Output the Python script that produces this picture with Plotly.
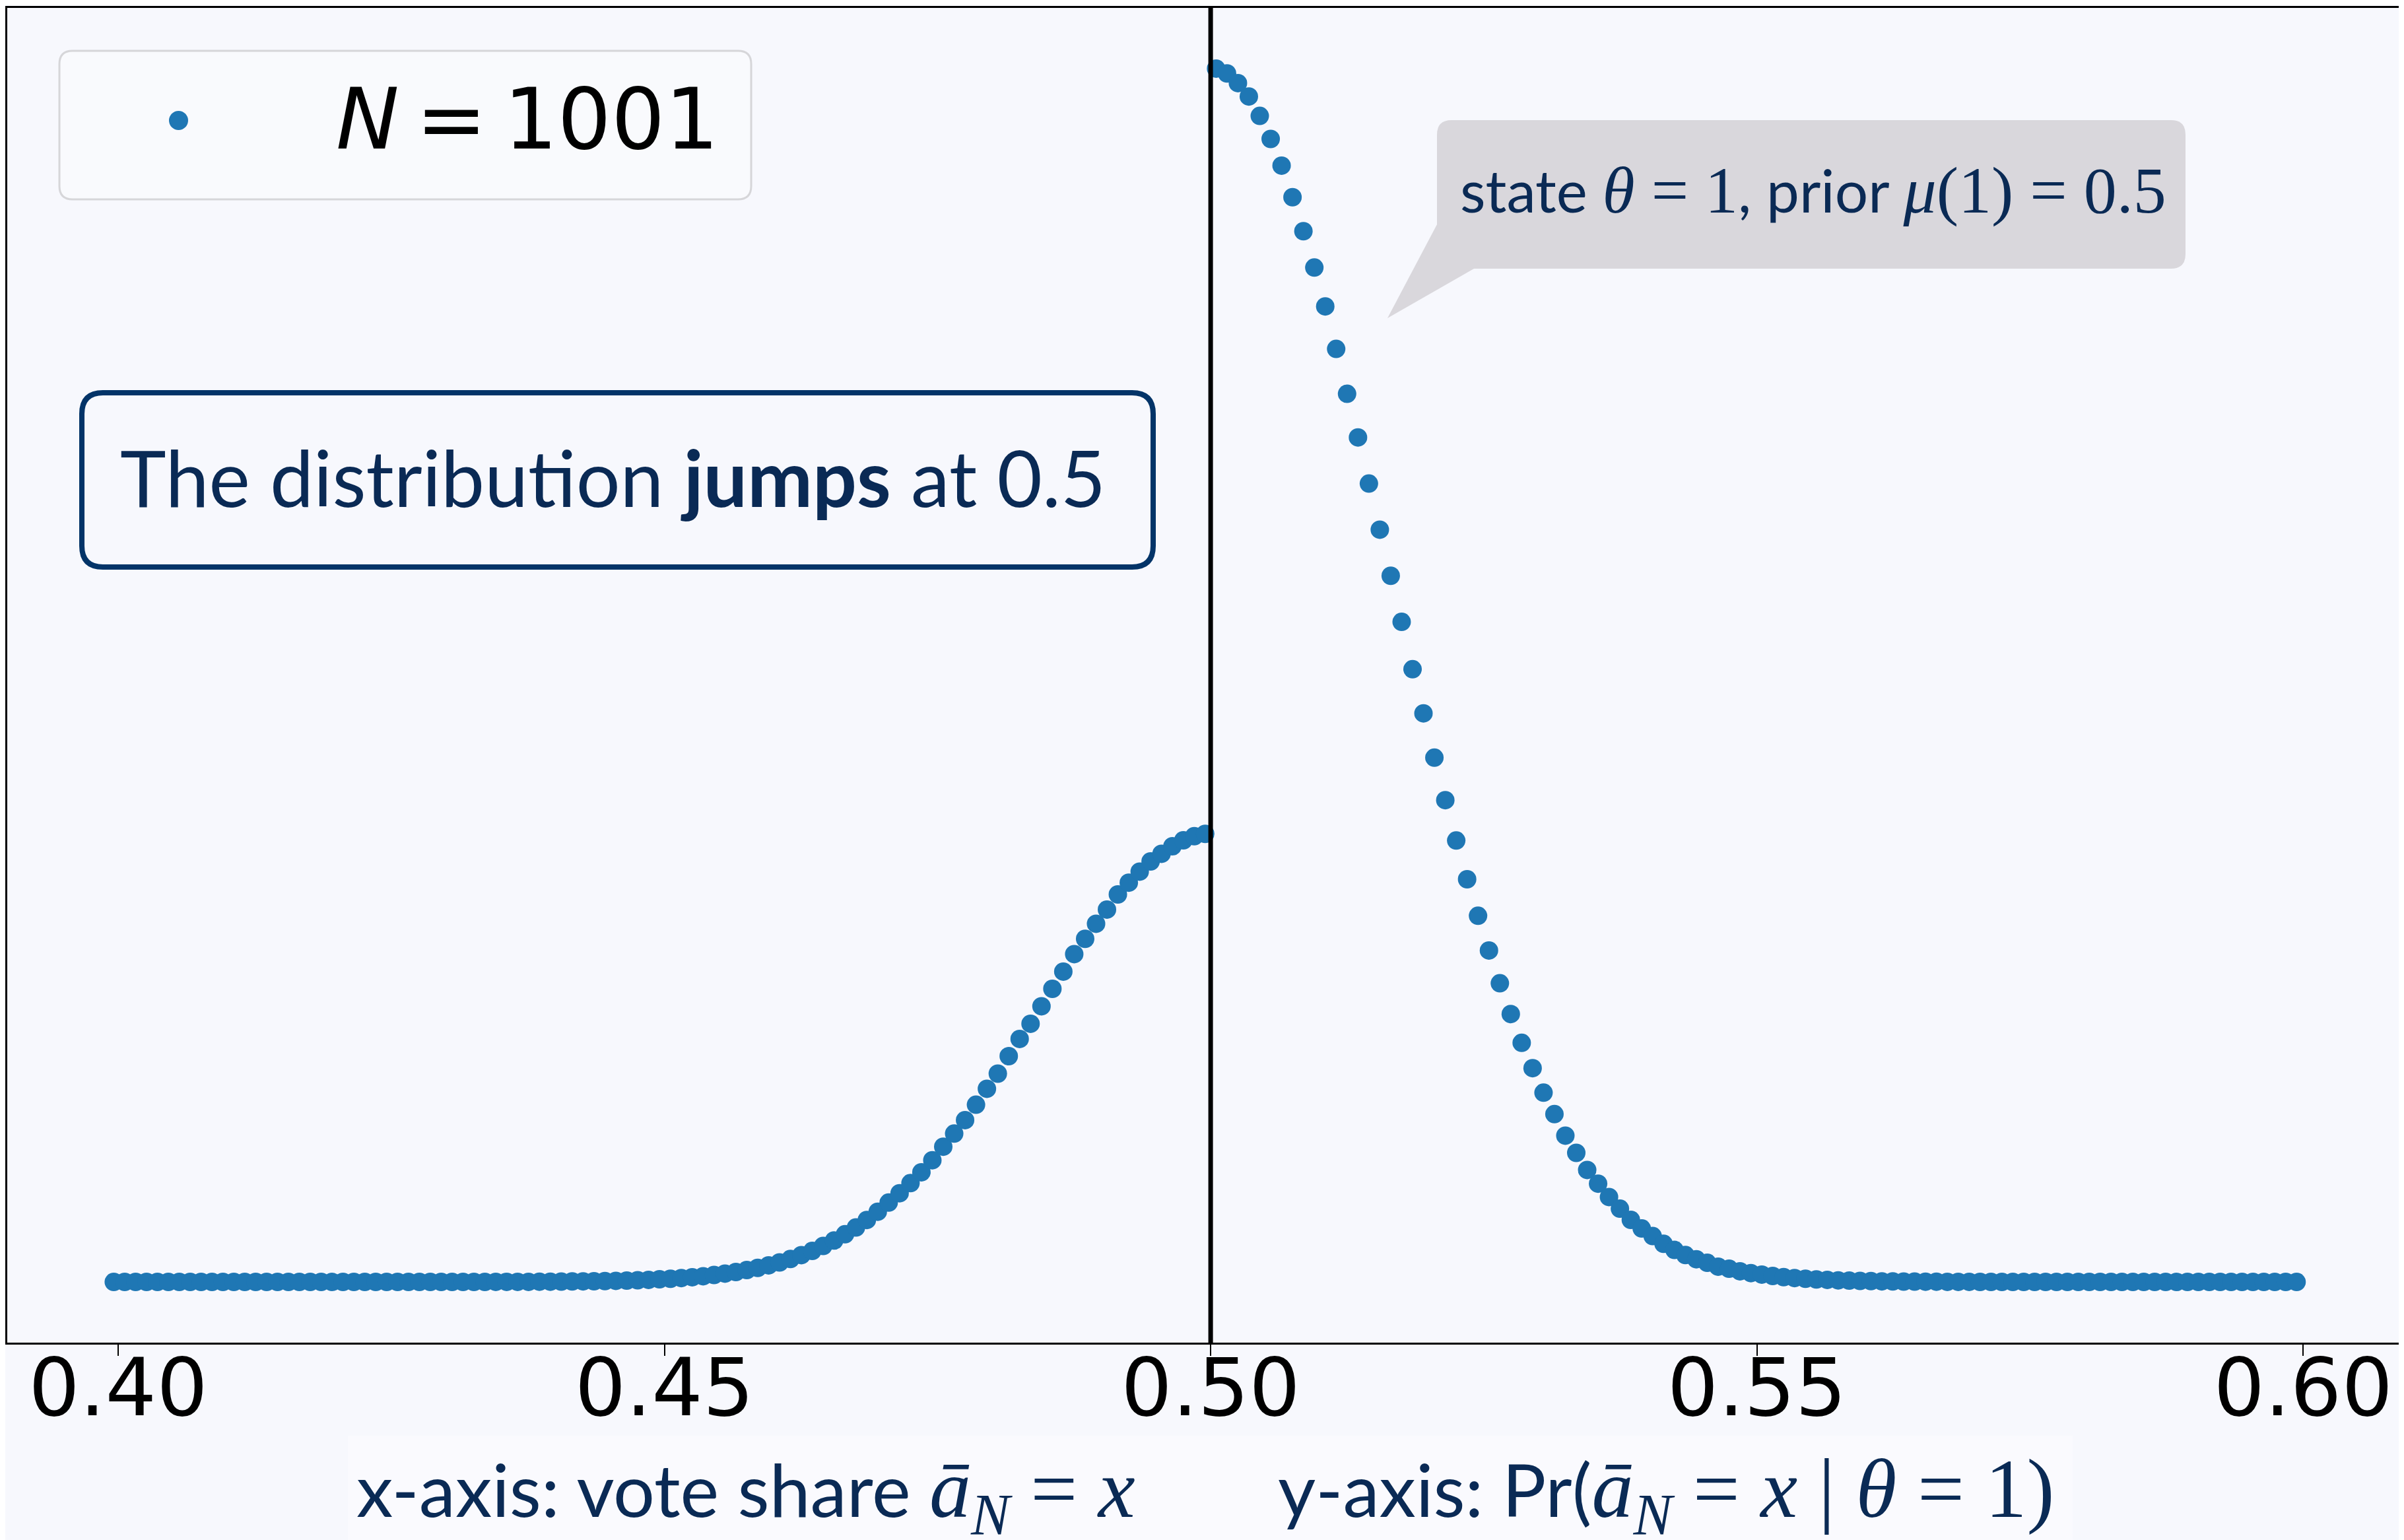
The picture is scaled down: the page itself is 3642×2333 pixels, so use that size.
import plotly.graph_objects as go

# ---------------- data ----------------
N_VOTERS = 1001
vote_counts = [
    400, 401, 402, 403, 404, 405, 406, 407, 408, 409, 410, 411, 412, 413, 414, 415, 416, 417, 418, 419,
    420, 421, 422, 423, 424, 425, 426, 427, 428, 429, 430, 431, 432, 433, 434, 435, 436, 437, 438, 439,
    440, 441, 442, 443, 444, 445, 446, 447, 448, 449, 450, 451, 452, 453, 454, 455, 456, 457, 458, 459,
    460, 461, 462, 463, 464, 465, 466, 467, 468, 469, 470, 471, 472, 473, 474, 475, 476, 477, 478, 479,
    480, 481, 482, 483, 484, 485, 486, 487, 488, 489, 490, 491, 492, 493, 494, 495, 496, 497, 498, 499,
    500, 501, 502, 503, 504, 505, 506, 507, 508, 509, 510, 511, 512, 513, 514, 515, 516, 517, 518, 519,
    520, 521, 522, 523, 524, 525, 526, 527, 528, 529, 530, 531, 532, 533, 534, 535, 536, 537, 538, 539,
    540, 541, 542, 543, 544, 545, 546, 547, 548, 549, 550, 551, 552, 553, 554, 555, 556, 557, 558, 559,
    560, 561, 562, 563, 564, 565, 566, 567, 568, 569, 570, 571, 572, 573, 574, 575, 576, 577, 578, 579,
    580, 581, 582, 583, 584, 585, 586, 587, 588, 589, 590, 591, 592, 593, 594, 595, 596, 597, 598, 599,
    600,
]

# relative probability Pr(a_N = x | theta = 1), peak = 1 (y-axis is unlabeled)
pr_values = [
    0, 0, 0, 0, 0, 0, 0, 0, 0, 0, 0, 0, 0, 0, 0, 0, 0, 0, 0, 0,
    0, 0, 0, 0, 0, 0, 0, 0, 0, 0, 0, 0, 0, 0, 0,
    0.0001, 0.0001, 0.0001, 0.0001, 0.0002, 0.0002, 0.0003, 0.0004, 0.0005, 0.0006,
    0.0007, 0.0009, 0.0011, 0.0014, 0.0017, 0.0022, 0.0026, 0.0032, 0.0039, 0.0047,
    0.0057, 0.0069, 0.0082, 0.0098, 0.0116, 0.0137, 0.0161, 0.0189, 0.0221, 0.0256,
    0.0297, 0.0342, 0.0393, 0.0449, 0.0511, 0.0579, 0.0654, 0.0731, 0.0815, 0.0904,
    0.1003, 0.1115, 0.1223, 0.1334, 0.1461, 0.1592, 0.1717, 0.1861, 0.2003, 0.2128,
    0.2272, 0.2416, 0.2558, 0.2702, 0.2828, 0.2952, 0.3069, 0.3194, 0.3291, 0.3382,
    0.3466, 0.3529, 0.3591, 0.3640, 0.3674, 0.3693,
    1.000, 0.996, 0.988, 0.977, 0.961, 0.942, 0.920, 0.894, 0.866, 0.836,
    0.804, 0.769, 0.732, 0.696, 0.658, 0.620, 0.582, 0.544, 0.505, 0.4686,
    0.4321, 0.3971, 0.3638, 0.3319, 0.3018, 0.2732, 0.2462, 0.2208, 0.1971, 0.1762,
    0.1560, 0.1383, 0.1206, 0.1064, 0.0923, 0.0810, 0.0700, 0.0604, 0.0512, 0.0441,
    0.0378, 0.0314, 0.0264, 0.0222, 0.0187, 0.0158, 0.0126, 0.0109, 0.0088, 0.0073,
    0.0061, 0.0049, 0.0040, 0.0032, 0.0026, 0.0021, 0.0017, 0.0013, 0.0011, 0.0008,
    0.0007, 0.0005, 0.0004, 0.0003, 0.0003, 0.0002, 0.0002, 0.0001, 0.0001, 0.0001,
    0, 0, 0, 0, 0, 0, 0, 0, 0, 0, 0, 0, 0, 0, 0, 0, 0, 0, 0, 0,
    0, 0, 0, 0, 0, 0, 0, 0, 0, 0,
]

tick_values = [0.40, 0.45, 0.50, 0.55, 0.60]
tick_labels = ["0.40", "0.45", "0.50", "0.55", "0.60"]
jump_at = 0.5
legend_label = "<i>N</i>\u2009=\u20091001"

# ---------------- geometry / style ----------------
# page pixels (the HTML body adds an 8 px margin around the figure)
WIN_W, WIN_H = 3642, 2333
BODY = 8
W, H = WIN_W - BODY, WIN_H - BODY
L, T, PB, PR = 11, 12, 2034, 3642        # plot area in page pixels
PW, PH = PR - L, PB - T

BG = "#F7F8FD"
NAVY = "#0A2A55"
BLUE = "#1F77B4"
SERIF = "Liberation Serif"
SANS = "Lato"

# x pixel mapping measured on ticks: 0.40 at px 179, 16551 px per unit
PX_PER_UNIT = 16551.0
x_lo = 0.40 + (L - 179) / PX_PER_UNIT
x_hi = 0.40 + (PR - 179) / PX_PER_UNIT


def fx(xp):
    return (xp - L) / PW


def fy(yp):
    return (PB - yp) / PH


def rrect(x0, y0, x1, y1, r):
    p = [
        ("M", (x0 + r, y0)), ("L", (x1 - r, y0)), ("Q", (x1, y0), (x1, y0 + r)),
        ("L", (x1, y1 - r)), ("Q", (x1, y1), (x1 - r, y1)), ("L", (x0 + r, y1)),
        ("Q", (x0, y1), (x0, y1 - r)), ("L", (x0, y0 + r)), ("Q", (x0, y0), (x0 + r, y0)),
    ]
    s = ""
    for cmd, *pts in p:
        s += cmd + " " + " ".join(f"{fx(a):.6f},{fy(b):.6f}" for a, b in pts) + " "
    return s + "Z"


def poly(points):
    s = "M " + " L ".join(f"{fx(a):.6f},{fy(b):.6f}" for a, b in points)
    return s + " Z"


x_share = [k / N_VOTERS for k in vote_counts]
ymin, ymax = min(pr_values), max(pr_values)
pad = 0.05 * (ymax - ymin)

fig = go.Figure()
fig.add_trace(go.Scatter(
    x=x_share, y=pr_values, mode="markers",
    marker=dict(color=BLUE, size=28, line=dict(width=0)),
    name="N = 1001", showlegend=False, hoverinfo="x+y",
))

shapes = [
    # caption backdrop
    dict(type="rect", xref="paper", yref="paper", x0=fx(527), x1=fx(3140),
         y0=fy(2340), y1=fy(2175), fillcolor="#FAFAFE", line=dict(width=0), layer="below"),
    # legend frame
    dict(type="path", xref="paper", yref="paper", path=rrect(90, 77, 1138, 302, 20),
         fillcolor="rgba(255,255,255,0.25)", line=dict(color="#D6D6D9", width=3), layer="above"),
    # legend symbol
    dict(type="circle", xref="paper", yref="paper", x0=fx(256), x1=fx(285),
         y0=fy(197), y1=fy(168), fillcolor=BLUE, line=dict(width=0), layer="above"),
    # jump box
    dict(type="path", xref="paper", yref="paper", path=rrect(124, 595, 1747, 859, 32),
         fillcolor="rgba(0,0,0,0)", line=dict(color="#033468", width=8), layer="above"),
    # callout bubble
    dict(type="path", xref="paper", yref="paper", path=rrect(2177, 182, 3311, 407, 22),
         fillcolor="#D9D7DC", line=dict(width=0), layer="above"),
    dict(type="path", xref="paper", yref="paper",
         path=poly([(2177, 340), (2102, 482), (2233, 407), (2240, 400), (2240, 340)]),
         fillcolor="#D9D7DC", line=dict(width=0), layer="above"),
    # vertical line at 0.5
    dict(type="line", xref="x", yref="paper", x0=jump_at, x1=jump_at, y0=0, y1=1,
         line=dict(color="black", width=7), layer="above"),
]


def serif(txt, size):
    return f"<span style='font-family:{SERIF};font-size:{size}px'>{txt}</span>"


annotations = [
    dict(xref="paper", yref="paper", x=fx(507), y=fy(181), xanchor="left", yanchor="middle",
         text=legend_label, showarrow=False,
         font=dict(family="DejaVu Sans", size=128, color="black")),
    dict(xref="paper", yref="paper", x=fx(928), y=fy(722), xanchor="center", yanchor="middle",
         text="The distribution <b>jumps</b> at 0.5", showarrow=False,
         font=dict(family=SANS, size=118, color=NAVY)),
    dict(xref="paper", yref="paper", x=fx(2210), y=fy(288), xanchor="left", yanchor="middle",
         text="state " + serif("<i>θ</i> = 1", 100) + ", prior " + serif("<i>μ</i>(1) = 0.5", 100),
         showarrow=False, font=dict(family=SANS, size=89, color=NAVY)),
    dict(xref="paper", yref="paper", x=fx(538), y=fy(2264), xanchor="left", yanchor="middle",
         text="x-axis: vote share " + serif("<i>ā</i><sub><i>N</i></sub> = <i>x</i>", 126),
         showarrow=False, font=dict(family=SANS, size=111, color=NAVY)),
    dict(xref="paper", yref="paper", x=fx(1934), y=fy(2264), xanchor="left", yanchor="middle",
         text="y-axis: Pr(" + serif("<i>ā</i><sub><i>N</i></sub> = <i>x</i> | <i>θ</i> = 1)", 126),
         showarrow=False, font=dict(family=SANS, size=111, color=NAVY)),
]

fig.update_layout(
    width=W, height=H,
    margin=dict(l=L - BODY, r=0, t=T - BODY, b=H - (PB - BODY), pad=0),
    paper_bgcolor=BG, plot_bgcolor=BG,
    showlegend=False,
    shapes=shapes, annotations=annotations,
    xaxis=dict(
        range=[x_lo, x_hi], tickvals=tick_values, ticktext=tick_labels,
        ticks="outside", ticklen=17, tickwidth=2, tickcolor="black",
        showline=True, linecolor="black", linewidth=3, mirror=True,
        showgrid=False, zeroline=False, ticklabelstandoff=-56,
        tickfont=dict(family="DejaVu Sans", size=122, color="black"),
    ),
    yaxis=dict(
        range=[ymin - pad, ymax + pad], showticklabels=False, ticks="",
        showline=True, linecolor="black", linewidth=3, mirror=False,
        showgrid=False, zeroline=False,
    ),
)

fig.write_html("out.html")
